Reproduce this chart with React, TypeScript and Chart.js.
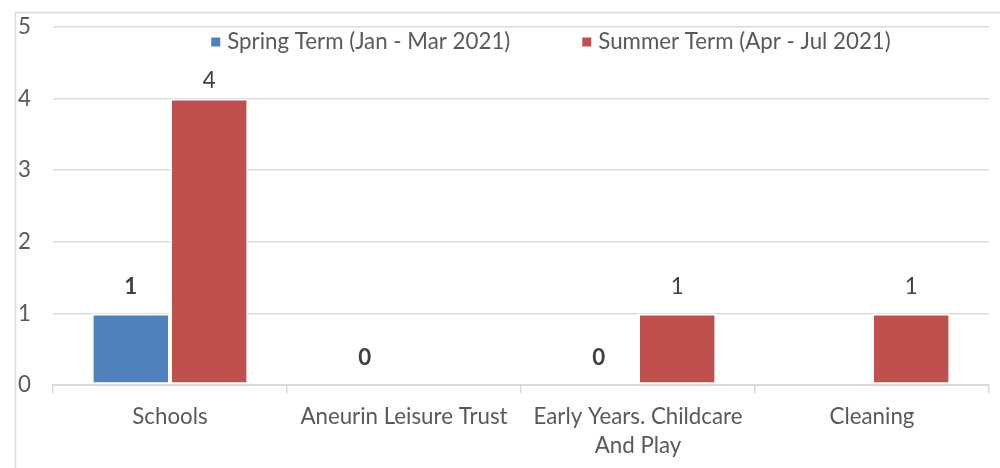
import React, { useEffect, useRef } from "react";
import { Chart, registerables } from "chart.js";

Chart.register(...registerables);

const categories: (string | string[])[] = [
  "Schools",
  "Aneurin Leisure Trust",
  ["Early Years. Childcare", "And Play"],
  "Cleaning",
];
const seriesNames = ["Spring Term (Jan - Mar 2021)", "Summer Term (Apr - Jul 2021)"];
const springValues: (number | null)[] = [1, 0, 0, null];
const summerValues: (number | null)[] = [4, null, 1, 1];
const yTickValues = [0, 1, 2, 3, 4, 5];

const seriesColors = ["#4F81BD", "#C0504D"];
const FONT = "Lato, 'Liberation Sans', sans-serif";
const FS = 22.3;
const TEXT = "#595959";
const GRID = "#D9D9D9";

export default function App() {
  const ref = useRef<HTMLCanvasElement | null>(null);

  useEffect(() => {
    document.body.style.margin = "0";
    const canvas = ref.current;
    if (!canvas) return;

    const framePlugin = {
      id: "frame",
      beforeDraw(chart: any) {
        const ctx = chart.ctx;
        ctx.save();
        ctx.fillStyle = "#ffffff";
        ctx.fillRect(0, 0, chart.width, chart.height);
        ctx.strokeStyle = GRID;
        ctx.lineWidth = 1.5;
        ctx.strokeRect(15.5, 12.5, chart.width + 20, chart.height + 20);
        ctx.restore();
      },
    };

    // label placement: distance above the bar top (the tallest bar's label sits closer)
    const labelPlugin = {
      id: "valueLabels",
      afterDatasetsDraw(chart: any) {
        const ctx = chart.ctx;
        ctx.save();
        ctx.textAlign = "center";
        ctx.textBaseline = "middle";
        const yScale = chart.scales.y;
        chart.data.datasets.forEach((ds: any, di: number) => {
          const meta = chart.getDatasetMeta(di);
          meta.data.forEach((el: any, i: number) => {
            const v = ds.data[i];
            if (v === null || v === undefined) return;
            ctx.font = (di === 0 ? "bold " : "") + FS + "px " + FONT;
            ctx.fillStyle = "#404040";
            const top = yScale.getPixelForValue(v);
            const off = v >= 4 ? 18 : 27;
            ctx.fillText(String(v), el.x, top - off);
          });
        });
        ctx.restore();
      },
    };

    const legendPlugin = {
      id: "customLegend",
      afterDraw(chart: any) {
        const ctx = chart.ctx;
        ctx.save();
        ctx.font = FS + "px " + FONT;
        ctx.textBaseline = "middle";
        ctx.textAlign = "left";
        const box = 9;
        const boxGap = 7;
        const itemGap = 72;
        const widths = seriesNames.map((n) => ctx.measureText(n).width);
        const total =
          widths.reduce((a, b) => a + b, 0) +
          seriesNames.length * (box + boxGap) +
          itemGap * (seriesNames.length - 1);
        const ca = chart.chartArea;
        let x = (ca.left + ca.right) / 2 + 30 - total / 2;
        const y = 42;
        seriesNames.forEach((n, i) => {
          ctx.fillStyle = seriesColors[i];
          ctx.fillRect(x, y - box / 2, box, box);
          x += box + boxGap;
          ctx.fillStyle = TEXT;
          ctx.fillText(n, x, y);
          x += widths[i] + itemGap;
        });
        ctx.restore();
      },
    };

    const barStyle = {
      borderColor: "#ffffff",
      borderWidth: 2,
      borderSkipped: false as any,
      categoryPercentage: 0.67,
      barPercentage: 1.0,
    };

    const chart = new Chart(canvas, {
      type: "bar",
      data: {
        labels: categories as any,
        datasets: [
          { label: seriesNames[0], data: springValues, backgroundColor: seriesColors[0], ...barStyle },
          { label: seriesNames[1], data: summerValues, backgroundColor: seriesColors[1], ...barStyle },
        ],
      },
      options: {
        responsive: false,
        animation: false,
        layout: { padding: { left: 18, top: 27, right: 11, bottom: 0 } },
        plugins: {
          legend: { display: false },
          tooltip: { enabled: false },
        },
        scales: {
          x: {
            offset: true,
            grid: {
              offset: true,
              drawOnChartArea: false,
              drawTicks: true,
              tickLength: 8,
              color: GRID,
              lineWidth: 1.5,
            },
            border: { display: true, color: GRID, width: 2 },
            ticks: {
              color: TEXT,
              font: { family: FONT, size: FS, lineHeight: 1.3 },
              padding: 9,
              maxRotation: 0,
              autoSkip: false,
            },
            afterFit(scale: any) {
              scale.height = 83;
            },
          },
          y: {
            min: yTickValues[0],
            max: yTickValues[yTickValues.length - 1],
            afterBuildTicks(scale: any) {
              scale.ticks = yTickValues.map((v) => ({ value: v }));
            },
            grid: { color: GRID, lineWidth: 1.5, drawTicks: false },
            border: { display: false },
            ticks: {
              color: TEXT,
              font: { family: FONT, size: FS },
              crossAlign: "far",
              padding: 0,
            },
            afterFit(scale: any) {
              scale.width = 35;
            },
          },
        },
      },
      plugins: [framePlugin, labelPlugin, legendPlugin],
    });

    return () => chart.destroy();
  }, []);

  return (
    <div style={{ width: 1000, height: 468 }}>
      <canvas ref={ref} width={1000} height={468} style={{ display: "block" }} />
    </div>
  );
}
